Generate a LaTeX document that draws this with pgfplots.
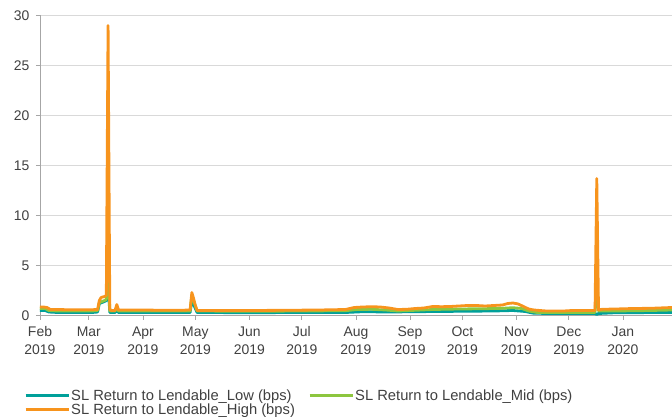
\documentclass[border=0pt]{standalone}
\usepackage{pgfplots}
\pgfplotsset{compat=1.18}
\usepackage{fontspec}
\setmainfont{Liberation Sans}
\definecolor{cLow}{HTML}{00A09A}
\definecolor{cMid}{HTML}{8DC63F}
\definecolor{cHigh}{HTML}{F7941D}
\definecolor{cGrid}{HTML}{D9D9D9}
\definecolor{cAxis}{HTML}{A6A6A6}
\definecolor{cText}{HTML}{404040}
\begin{document}
\begin{tikzpicture}
\begin{axis}[
  name=ax,
  scale only axis,
  width=632bp, height=300bp,
  xmin=0, xmax=362.1, ymin=0, ymax=30,
  axis x line*=bottom, axis y line*=left,
  axis line style={cAxis, line width=0.8bp, -},
  ytick={0,5,...,30},
  ymajorgrids, grid style={cGrid, line width=0.8bp},
  xtick={0,28,59,89,120,150,181,212,242,273,303,334},
  xticklabels={\strut Feb\\2019,\strut Mar\\2019,\strut Apr\\2019,\strut May\\2019,\strut Jun\\2019,\strut Jul\\2019,\strut Aug\\2019,\strut Sep\\2019,\strut Oct\\2019,\strut Nov\\2019,\strut Dec\\2019,\strut Jan\\2020},
  tick align=outside, major tick length=4bp,
  tick style={cAxis, line width=0.8bp},
  xticklabel style={align=center, font=\fontsize{14}{18}\selectfont, text=cText, yshift=-1bp},
  yticklabel style={font=\fontsize{14}{17}\selectfont, text=cText, xshift=-3bp},
  /pgf/number format/assume math mode=true,
  legend columns=2,
  legend style={at={(0,0)}, anchor=north west, xshift=-16bp, yshift=-73bp,
    draw=none, fill=none, inner sep=0pt, row sep=0pt,
    font=\fontsize{14.8}{16}\selectfont, text=cText,
    nodes={inner sep=1bp}},
  legend cell align=left,
  legend image code/.code={\draw[#1, line width=3bp] (0bp,0bp) -- (43bp,0bp);},
  every axis plot/.append style={line width=2.8bp, line join=round, no marks},
  clip=false,
]
\addplot[cLow] coordinates {
(0,0.5)(3,0.5)(5,0.35)(10,0.3)(20,0.3)(30,0.3)(33,0.35)(34,1.2)(37,1.4)(38,1.5)(39,3.0)(40,0.3)(43,0.3)(44,0.5)(45,0.3)
(60,0.3)(80,0.3)(86,0.3)(87,1.5)(88,1.1)(90,0.3)(120,0.28)(150,0.3)(175,0.3)(185,0.38)(200,0.35)(215,0.38)(240,0.42)(260,0.45)(271,0.5)(278,0.4)(283,0.22)(300,0.2)(318,0.2)(319,0.1)(320,0.2)(330,0.28)(362,0.3)
};
\addlegendentry{\makebox[236bp][l]{SL Return to Lendable\_Low (bps)}}
\addplot[cMid] coordinates {
(0,0.7)(3,0.7)(5,0.5)(10,0.45)(20,0.45)(30,0.45)(33,0.5)(34,1.3)(37,1.5)(38,1.6)(39,6.0)(40,0.45)(43,0.45)(44,0.8)(45,0.45)
(60,0.45)(80,0.45)(86,0.45)(87,2.0)(88,1.5)(90,0.45)(120,0.42)(150,0.45)(175,0.48)(182,0.6)(190,0.62)(198,0.55)(205,0.45)(215,0.52)(225,0.6)(240,0.65)(255,0.68)(265,0.72)(271,0.78)(276,0.7)(280,0.45)(285,0.3)(300,0.3)(318,0.3)(319,4.0)(320,0.45)(330,0.45)(350,0.5)(362,0.55)
};
\addlegendentry{SL Return to Lendable\_Mid (bps)}
\addplot[cHigh] coordinates {
(0,0.85)(2,0.85)(4,0.8)(6,0.6)(10,0.6)(15,0.58)(20,0.58)(25,0.57)(30,0.58)(33,0.6)(34,1.5)(35,1.8)(37,1.9)(38,2.0)(39,29.0)(40,0.6)(41,0.5)(43,0.5)(44,1.1)(45,0.55)
(50,0.55)(60,0.55)(70,0.52)(80,0.52)(86,0.55)(87,2.3)(88,1.7)(89,1.0)(90,0.5)(100,0.5)(120,0.5)(140,0.52)(160,0.55)(175,0.6)(180,0.8)(185,0.85)(190,0.88)(195,0.85)(200,0.75)(205,0.6)(210,0.62)(215,0.7)(220,0.75)(225,0.9)(230,0.88)(235,0.9)(240,0.95)(245,1.0)(250,1.0)(255,0.95)(260,1.0)(265,1.05)(268,1.2)(271,1.25)(274,1.15)(277,0.9)(280,0.65)(283,0.55)(290,0.45)(300,0.45)(305,0.5)(318,0.5)(319,13.7)(320,0.55)(322,0.62)(330,0.65)(340,0.7)(350,0.72)(362,0.8)
};
\addlegendentry{SL Return to Lendable\_High (bps)}
\end{axis}
\pgfresetboundingbox
\path ([xshift=-40bp,yshift=-101.5bp]ax.south west) rectangle ([yshift=15.5bp]ax.north east);
\end{tikzpicture}
\end{document}
